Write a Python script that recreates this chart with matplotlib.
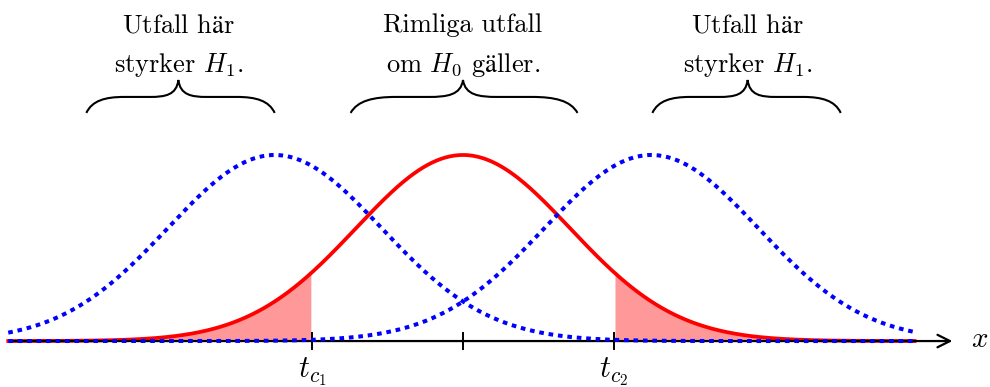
import matplotlib
matplotlib.use("Agg")
import matplotlib.pyplot as plt
import numpy as np
from matplotlib.path import Path
from matplotlib.patches import PathPatch

plt.rcParams['font.family'] = ['cmr10', 'DejaVu Serif']
plt.rcParams['mathtext.fontset'] = 'cm'
plt.rcParams['axes.formatter.use_mathtext'] = True

# model parameters (in sigma units)
mu_h0 = 0.0
mu_h1 = [-1.76, 1.76]
sigma = 1.0
t_crit = [-1.41, 1.41]
x_min, x_max = -4.25, 4.22
axis_end = 4.6

tick_pos = [t_crit[0], mu_h0, t_crit[1]]
tick_labels = [r'$t_{c_1}$', '', r'$t_{c_2}$']

# region annotations: (left, right, tip) and two text lines
brace_spans = [(-3.52, -1.76, -2.66), (-1.05, 1.07, 0.0), (1.77, 3.53, 2.66)]
brace_text = [(r'Utfall h$\mathrm{ä}$r', r'styrker $H_1$.'),
              ('Rimliga utfall', r'om $H_0$ g$\mathrm{ä}$ller.'),
              (r'Utfall h$\mathrm{ä}$r', r'styrker $H_1$.')]


def bell(x, mu):
    return np.exp(-0.5 * ((x - mu) / sigma) ** 2)


def brace(ax, x0, x1, xc, yb=1.226, ym=1.312, yt=1.403):
    w = x1 - x0
    verts = [(x0, yb), (x0 + 0.03 * w, ym - 0.02), (x0 + 0.10 * w, ym), (x0 + 0.20 * w, ym),
             (xc - 0.15 * w, ym),
             (xc - 0.07 * w, ym), (xc - 0.01 * w, ym + 0.01), (xc, yt),
             (xc + 0.01 * w, ym + 0.01), (xc + 0.07 * w, ym), (xc + 0.15 * w, ym),
             (x1 - 0.20 * w, ym),
             (x1 - 0.10 * w, ym), (x1 - 0.03 * w, ym - 0.02), (x1, yb)]
    codes = [Path.MOVETO, Path.CURVE4, Path.CURVE4, Path.CURVE4,
             Path.LINETO,
             Path.CURVE4, Path.CURVE4, Path.CURVE4,
             Path.CURVE4, Path.CURVE4, Path.CURVE4,
             Path.LINETO,
             Path.CURVE4, Path.CURVE4, Path.CURVE4]
    ax.add_patch(PathPatch(Path(verts, codes), facecolor='none', edgecolor='black', lw=1.5))


fig = plt.figure(figsize=(9.9, 3.87), dpi=100)
ax = fig.add_axes([0, 0, 1, 1])
ax.set_xlim(-4.327, 4.925)
ax.set_ylim(-0.247, 1.833)
ax.axis('off')

x = np.linspace(x_min, x_max, 600)
y0 = bell(x, mu_h0)

# rejection regions
xl = x[x <= t_crit[0]]
ax.fill_between(xl, 0, bell(xl, mu_h0), color='#ff9999', lw=0, zorder=1)
xr = x[x >= t_crit[1]]
ax.fill_between(xr, 0, bell(xr, mu_h0), color='#ff9999', lw=0, zorder=1)

ax.plot(x, y0, color='red', lw=2.7, zorder=2)

# x axis with arrow and ticks
ax.annotate('', xy=(axis_end, 0), xytext=(x_min, 0),
            arrowprops=dict(arrowstyle='->,head_length=0.9,head_width=0.45', color='black', lw=1.6),
            zorder=3)
for tp, tl in zip(tick_pos, tick_labels):
    ax.plot([tp, tp], [-0.045, 0.045], color='black', lw=1.4, zorder=3)
    ax.text(tp, -0.165, tl, ha='center', va='center', fontsize=22)
ax.text(4.83, 0.005, r'$x$', ha='center', va='center', fontsize=21)

for mu in mu_h1:
    ax.plot(x, bell(x, mu), color='blue', lw=2.9, linestyle=(0, (1.15, 1.2)), zorder=4)

for (b0, b1, bc), (l1, l2) in zip(brace_spans, brace_text):
    brace(ax, b0, b1, bc)
    ax.text(bc, 1.661, l1, ha='center', va='baseline', fontsize=19)
    ax.text(bc, 1.446, l2, ha='center', va='baseline', fontsize=19)

fig.savefig('out.png', dpi=100)
